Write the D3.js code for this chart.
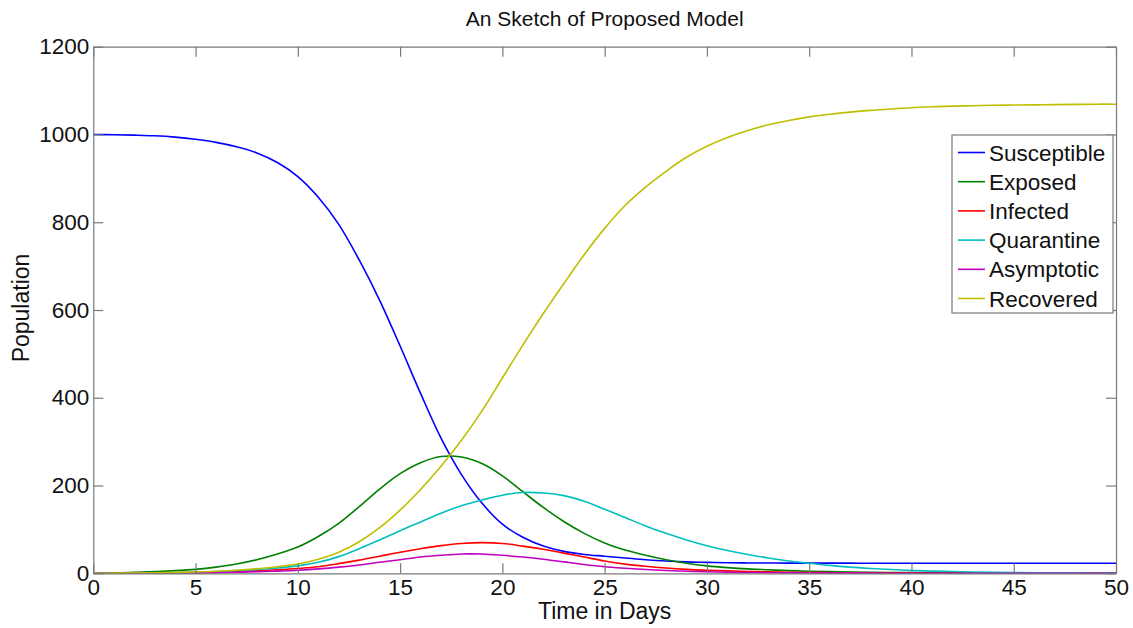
<!DOCTYPE html>
<html>
<head>
<meta charset="utf-8">
<script src="https://cdn.jsdelivr.net/npm/d3@7"></script>
<style>
  html, body { margin: 0; padding: 0; background: #fff; }
  svg { display: block; font-family: Arial, "Liberation Sans", Helvetica, sans-serif; }
</style>
</head>
<body>
<svg id="chart" width="1133" height="628"></svg>
<script>
// Time axis: one sample per day
const days = d3.range(0, 51);

const susceptible = [1000, 999.5, 998.5, 997, 994, 989, 982, 972, 958, 936,
  904, 857, 795, 714, 622, 518, 410, 308, 225, 160,
  112, 82, 62, 50, 43, 39, 35, 31, 28, 26,
  25, 24, 23.6, 23.4, 23.3, 23.2, 23.1, 23.1, 23, 23,
  23, 23, 23, 23, 23, 23, 23, 23, 23, 23, 23];

const exposed = [0, 1, 2, 4, 6, 9, 14, 21, 31, 44,
  60, 84, 114, 152, 192, 227, 252, 266, 265, 250,
  222, 186, 150, 118, 91, 69, 53, 41, 31, 23,
  17, 13, 10, 8, 6, 4.8, 3.8, 3, 2.4, 1.9,
  1.5, 1.2, 1, 0.8, 0.7, 0.6, 0.5, 0.4, 0.4, 0.3, 0.3];

const infected = [0, 0, 0.3, 0.6, 1, 1.6, 2.5, 4, 5.5, 8,
  11, 15, 22, 30, 39, 48, 56, 63, 68, 70,
  68, 62, 55, 46, 37, 28, 21, 16, 12, 9,
  7, 5.5, 4.2, 3.2, 2.4, 1.8, 1.4, 1, 0.8, 0.6,
  0.5, 0.4, 0.3, 0.2, 0.2, 0.2, 0.1, 0.1, 0.1, 0.1, 0.1];

const quarantine = [0, 0, 0.5, 1, 1.5, 2.5, 4, 6, 9, 12,
  17, 25, 38, 56, 76, 97, 117, 137, 154, 167,
  178, 184, 183, 177, 164, 146, 127, 108, 91, 76,
  63, 52, 43, 35, 28, 23, 18, 14, 11, 8.5,
  6.5, 5, 4, 3, 2.3, 1.8, 1.4, 1.1, 0.9, 0.7, 0.5];

const asymptotic = [0, 0, 0.2, 0.4, 0.7, 1, 1.6, 2.5, 3.5, 5,
  7, 10, 14, 19, 25, 31, 37, 41, 44, 44,
  41, 37, 32, 26, 20, 15, 11.5, 8.5, 6.3, 4.6,
  3.4, 2.5, 1.8, 1.3, 1, 0.7, 0.5, 0.4, 0.3, 0.2,
  0.2, 0.1, 0.1, 0.1, 0.1, 0, 0, 0, 0, 0, 0];

const recovered = [0, 0.3, 0.7, 1.2, 2, 3, 4.5, 7, 10.5, 15,
  21, 32, 48, 72, 104, 144, 191, 244, 303, 370,
  445, 520, 592, 660, 726, 786, 838, 880, 916, 948,
  973, 993, 1009, 1022, 1032, 1040, 1046, 1051, 1055, 1058,
  1061, 1063, 1064.5, 1065.5, 1066.5, 1067, 1067.5, 1068, 1068.5, 1069, 1069];

const seriesNames = ["Susceptible", "Exposed", "Infected", "Quarantine", "Asymptotic", "Recovered"];
const seriesValues = [susceptible, exposed, infected, quarantine, asymptotic, recovered];
const seriesColors = ["#0000ff", "#007f00", "#ff0000", "#00bfbf", "#bf00bf", "#bfbf00"];

const xTicks = [0, 5, 10, 15, 20, 25, 30, 35, 40, 45, 50];
const yTicks = [0, 200, 400, 600, 800, 1000, 1200];

const svg = d3.select("#chart");
const plotLeft = 93.3, plotRight = 1116, plotTop = 46.7, plotBottom = 573.3;

const x = d3.scaleLinear().domain([0, 50]).range([plotLeft, plotRight]);
const y = d3.scaleLinear().domain([0, 1200]).range([plotBottom, plotTop]);

const frameColor = "#7a7a7a";

// Title
svg.append("text")
  .attr("x", (plotLeft + plotRight) / 2).attr("y", 26)
  .attr("text-anchor", "middle")
  .attr("font-size", 21).attr("fill", "#111")
  .text("An Sketch of Proposed Model");

// Curves
const line = d3.line()
  .x((d, i) => x(days[i]))
  .y(d => y(d))
  .curve(d3.curveCatmullRom.alpha(0.5));

const plot = svg.append("g");
seriesValues.forEach((vals, k) => {
  plot.append("path")
    .datum(vals)
    .attr("fill", "none")
    .attr("stroke", seriesColors[k])
    .attr("stroke-width", 1.6)
    .attr("d", line);
});

// Axes with inward ticks on all four sides
function styleAxis(g) {
  g.selectAll(".domain").attr("stroke", frameColor).attr("stroke-width", 1.2);
  g.selectAll(".tick line").attr("stroke", frameColor).attr("stroke-width", 1.2);
  g.selectAll(".tick text").attr("fill", "#111").attr("font-size", 22.5)
    .attr("font-family", "Arial, 'Liberation Sans', sans-serif");
}

svg.append("g")
  .attr("transform", `translate(0,${plotBottom})`)
  .call(d3.axisBottom(x).tickValues(xTicks).tickSizeInner(-10).tickSizeOuter(0).tickPadding(6)
    .tickFormat(d3.format("d")))
  .call(styleAxis);

svg.append("g")
  .attr("transform", `translate(0,${plotTop})`)
  .call(d3.axisTop(x).tickValues(xTicks).tickSizeInner(-10).tickSizeOuter(0).tickFormat(""))
  .call(styleAxis);

svg.append("g")
  .attr("transform", `translate(${plotLeft},0)`)
  .call(d3.axisLeft(y).tickValues(yTicks).tickSizeInner(-10).tickSizeOuter(0).tickPadding(4)
    .tickFormat(d3.format("d")))
  .call(styleAxis);

svg.append("g")
  .attr("transform", `translate(${plotRight},0)`)
  .call(d3.axisRight(y).tickValues(yTicks).tickSizeInner(-10).tickSizeOuter(0).tickFormat(""))
  .call(styleAxis);

// Axis labels
svg.append("text")
  .attr("x", (plotLeft + plotRight) / 2).attr("y", 619)
  .attr("text-anchor", "middle")
  .attr("font-size", 23).attr("fill", "#111")
  .text("Time in Days");

svg.append("text")
  .attr("transform", `translate(29,${(plotTop + plotBottom) / 2 - 2}) rotate(-90)`)
  .attr("text-anchor", "middle")
  .attr("font-size", 23).attr("fill", "#111")
  .text("Population");

// Legend
const lg = svg.append("g").attr("transform", "translate(952,135)");
lg.append("rect")
  .attr("width", 161).attr("height", 178)
  .attr("fill", "#fff").attr("stroke", frameColor).attr("stroke-width", 1.2);

seriesNames.forEach((name, k) => {
  const cy = 17.5 + k * 29.2;
  lg.append("line")
    .attr("x1", 6).attr("x2", 33).attr("y1", cy).attr("y2", cy)
    .attr("stroke", seriesColors[k]).attr("stroke-width", 1.6);
  lg.append("text")
    .attr("x", 37).attr("y", cy + 8)
    .attr("font-size", 22.5).attr("fill", "#111")
    .text(name);
});
</script>
</body>
</html>
